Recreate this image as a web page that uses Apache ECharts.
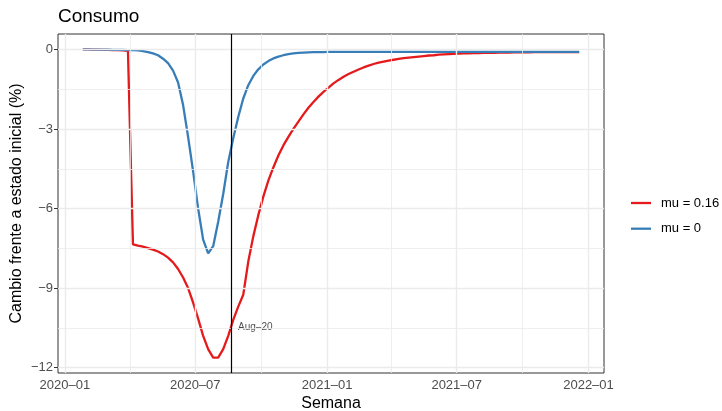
<!DOCTYPE html>
<html>
<head>
<meta charset="utf-8">
<title>Consumo</title>
<script src="https://cdn.jsdelivr.net/npm/echarts@6.0.0/dist/echarts.min.js"></script>
<style>
	html, body { margin: 0; padding: 0; background: #fff; }
	#chart { width: 722px; height: 411px; }
</style>
</head>
<body>
<div id="chart"></div>
<script>
	// semanas: primera observacion y numero de puntos (una por semana)
	var weekStart = Date.UTC(2020, 0, 26);
	var DAY = 86400000;

	// mu = 0.16
	var consumoMu016 = [
		0, 0, -0.01, -0.01, -0.02, -0.02, -0.03, -0.03, -0.04, -0.05,
		-7.35, -7.4, -7.44, -7.49, -7.55, -7.62, -7.72, -7.85, -8.03, -8.28,
		-8.6, -9.0, -9.55, -10.15, -10.8, -11.3, -11.62, -11.62, -11.3, -10.8,
		-10.2, -9.7, -9.25, -8.0, -7.05, -6.25, -5.55, -4.95, -4.45, -4.0,
		-3.62, -3.3, -3.0, -2.72, -2.45, -2.2, -1.98, -1.78, -1.6, -1.44,
		-1.28, -1.15, -1.03, -0.93, -0.84, -0.76, -0.68, -0.61, -0.55, -0.5,
		-0.46, -0.42, -0.39, -0.36, -0.33, -0.31, -0.29, -0.27, -0.25, -0.23,
		-0.22, -0.2, -0.19, -0.18, -0.17, -0.16, -0.15, -0.15, -0.14, -0.14,
		-0.13, -0.13, -0.13, -0.12, -0.12, -0.12, -0.11, -0.11, -0.11, -0.11,
		-0.1, -0.1, -0.1, -0.1, -0.1, -0.1, -0.1, -0.1, -0.1, -0.1
	];
	// mu = 0
	var consumoMu0 = [
		0, 0, -0.01, -0.01, -0.01, -0.01, -0.02, -0.02, -0.02, -0.03,
		-0.03, -0.04, -0.06, -0.1, -0.15, -0.22, -0.35, -0.52, -0.8, -1.25,
		-2.1, -3.3, -4.6, -6.0, -7.17, -7.69, -7.42, -6.5, -5.45, -4.25,
		-3.35, -2.55, -1.85, -1.35, -1.0, -0.75, -0.57, -0.44, -0.34, -0.27,
		-0.22, -0.18, -0.15, -0.13, -0.12, -0.11, -0.1, -0.1, -0.1, -0.09,
		-0.09, -0.09, -0.09, -0.09, -0.09, -0.09, -0.09, -0.09, -0.09, -0.09,
		-0.09, -0.09, -0.09, -0.09, -0.09, -0.09, -0.09, -0.09, -0.09, -0.09,
		-0.09, -0.09, -0.09, -0.09, -0.09, -0.09, -0.09, -0.09, -0.09, -0.09,
		-0.09, -0.09, -0.09, -0.09, -0.09, -0.09, -0.09, -0.09, -0.09, -0.09,
		-0.09, -0.09, -0.09, -0.09, -0.09, -0.09, -0.09, -0.09, -0.09, -0.09
	];
	var seriesNames = ['mu = 0.16', 'mu = 0'];
	var seriesColors = ['#E41A1C', '#377EB8'];

	// ticks
	var xMajor = [Date.UTC(2020, 0, 1), Date.UTC(2020, 6, 1), Date.UTC(2021, 0, 1), Date.UTC(2021, 6, 1), Date.UTC(2022, 0, 1)];
	var xMinor = [Date.UTC(2020, 3, 1), Date.UTC(2020, 9, 1), Date.UTC(2021, 3, 1), Date.UTC(2021, 9, 1)];
	var yMajor = [-12, -9, -6, -3, 0];
	var yMinor = [-10.5, -7.5, -4.5, -1.5];

	// linea vertical y su etiqueta
	var cutDate = Date.UTC(2020, 7, 20);
	var cutLabel = 'Aug–20';
	var cutLabelY = -10.49;

	var FONT = '"Liberation Sans", Arial, sans-serif';

	function pairs(values) {
		var out = [];
		for (var i = 0; i < values.length; i++) {
			out.push([weekStart + i * 7 * DAY, values[i]]);
		}
		return out;
	}

	function fmtDate(v) {
		var d = new Date(v);
		var m = d.getUTCMonth() + 1;
		return d.getUTCFullYear() + '–' + (m < 10 ? '0' + m : m);
	}

	// rango como ggplot: 5% a cada lado
	var lastWeek = weekStart + (consumoMu0.length - 1) * 7 * DAY;
	var span = lastWeek - weekStart;
	var xMin = weekStart - span * 0.05;
	var xMax = lastWeek + span * 0.05;
	var yLo = -11.62, yHi = 0;
	var yMin = yLo - (yHi - yLo) * 0.05;
	var yMax = yHi + (yHi - yLo) * 0.05;

	var gridLines = [];
	for (var i = 0; i < xMajor.length; i++) gridLines.push({ xAxis: xMajor[i], lineStyle: { width: 1.4 } });
	for (var i = 0; i < xMinor.length; i++) gridLines.push({ xAxis: xMinor[i], lineStyle: { width: 0.8 } });
	for (var i = 0; i < yMajor.length; i++) gridLines.push({ yAxis: yMajor[i], lineStyle: { width: 1.4 } });
	for (var i = 0; i < yMinor.length; i++) gridLines.push({ yAxis: yMinor[i], lineStyle: { width: 0.8 } });

	var chart = echarts.init(document.getElementById('chart'), null, { renderer: 'canvas' });

	var option = {
		animation: false,
		backgroundColor: '#ffffff',
		textStyle: { fontFamily: FONT },
		title: {
			text: 'Consumo',
			left: 58,
			top: 7,
			padding: 0,
			textStyle: { fontSize: 19, fontWeight: 'normal', color: '#000', fontFamily: FONT }
		},
		legend: {
			data: seriesNames,
			orient: 'vertical',
			left: 631,
			top: 196,
			padding: 0,
			icon: 'rect',
			itemWidth: 20,
			itemHeight: 2.3,
			itemGap: 11.7,
			textStyle: { fontSize: 13, lineHeight: 14, color: '#000', fontFamily: FONT, padding: [0, 0, 0, 5] }
		},
		grid: {
			left: 58,
			right: 118,
			top: 34,
			bottom: 38,
			outerBoundsMode: 'none',
			containLabel: false,
			show: true,
			borderColor: '#333333',
			borderWidth: 1,
			backgroundColor: '#fff'
		},
		xAxis: {
			type: 'value',
			min: xMin,
			max: xMax,
			name: 'Semana',
			nameLocation: 'middle',
			nameGap: 23,
			nameMoveOverlap: false,
			nameTextStyle: { fontSize: 16, color: '#000', fontFamily: FONT },
			axisLine: { show: false },
			splitLine: { show: false },
			axisTick: { show: true, length: 4, customValues: xMajor, lineStyle: { color: '#333', width: 1 } },
			axisLabel: {
				customValues: xMajor,
				formatter: fmtDate,
				margin: 6,
				fontSize: 13,
				color: '#4D4D4D',
				fontFamily: FONT
			}
		},
		yAxis: {
			type: 'value',
			min: yMin,
			max: yMax,
			name: 'Cambio frente a estado inicial (%)',
			nameLocation: 'middle',
			nameGap: 33,
			nameMoveOverlap: false,
			nameTextStyle: { fontSize: 16, color: '#000', fontFamily: FONT },
			axisLine: { show: false },
			splitLine: { show: false },
			axisTick: { show: true, length: 4, customValues: yMajor, lineStyle: { color: '#333', width: 1 } },
			axisLabel: {
				customValues: yMajor,
				formatter: function(v) { return String(v).replace('-', '−'); },
				margin: 5,
				fontSize: 13,
				color: '#4D4D4D',
				fontFamily: FONT
			}
		},
		series: [
			{
				name: 'grid',
				type: 'line',
				data: [],
				z: 0,
				silent: true,
				markLine: {
					silent: true,
					symbol: ['none', 'none'],
					label: { show: false },
					lineStyle: { color: '#EBEBEB', type: 'solid' },
					data: gridLines
				}
			},
			{
				name: seriesNames[0],
				type: 'line',
				data: pairs(consumoMu016),
				symbol: 'none',
				z: 2,
				color: seriesColors[0],
				lineStyle: { color: seriesColors[0], width: 2.3 }
			},
			{
				name: seriesNames[1],
				type: 'line',
				data: pairs(consumoMu0),
				symbol: 'none',
				z: 3,
				color: seriesColors[1],
				lineStyle: { color: seriesColors[1], width: 2.3 }
			},
			{
				name: 'corte',
				type: 'scatter',
				data: [[cutDate, cutLabelY]],
				symbolSize: 0,
				z: 4,
				silent: true,
				label: {
					show: true,
					position: 'right',
					distance: 7,
					formatter: cutLabel,
					fontSize: 10,
					color: '#1a1a1a',
					fontFamily: FONT
				},
				markLine: {
					silent: true,
					symbol: ['none', 'none'],
					label: { show: false },
					lineStyle: { color: '#000', width: 1.2, type: 'solid' },
					data: [{ xAxis: cutDate }]
				}
			}
		]
	};

	chart.setOption(option);
</script>
</body>
</html>
